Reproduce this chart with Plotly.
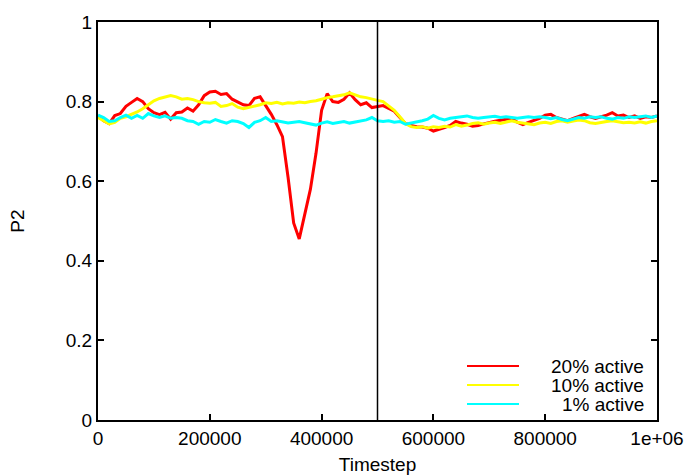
import plotly.graph_objects as go

timestep = [i * 10000 for i in range(101)]

red_20 = [0.765, 0.752, 0.745, 0.765, 0.770, 0.788, 0.798, 0.808, 0.800, 0.782,
          0.772, 0.767, 0.773, 0.756, 0.772, 0.774, 0.784, 0.776, 0.792, 0.815,
          0.824, 0.826, 0.818, 0.820, 0.806, 0.798, 0.792, 0.790, 0.808, 0.812,
          0.790, 0.768, 0.742, 0.712, 0.610, 0.495, 0.455, 0.515, 0.580, 0.670,
          0.778, 0.820, 0.800, 0.798, 0.806, 0.822, 0.805, 0.792, 0.797, 0.785,
          0.788, 0.790, 0.783, 0.776, 0.760, 0.745, 0.740, 0.737, 0.736, 0.733,
          0.726, 0.730, 0.735, 0.740, 0.750, 0.746, 0.743, 0.738, 0.740, 0.744,
          0.748, 0.751, 0.753, 0.756, 0.758, 0.748, 0.742, 0.748, 0.752, 0.758,
          0.766, 0.768, 0.760, 0.756, 0.752, 0.758, 0.762, 0.768, 0.762, 0.758,
          0.762, 0.766, 0.772, 0.764, 0.766, 0.760, 0.764, 0.758, 0.762, 0.760,
          0.764]

yellow_10 = [0.760, 0.752, 0.744, 0.748, 0.758, 0.762, 0.768, 0.774, 0.782, 0.792,
             0.802, 0.808, 0.812, 0.815, 0.812, 0.806, 0.808, 0.805, 0.800, 0.797,
             0.796, 0.798, 0.788, 0.790, 0.795, 0.786, 0.782, 0.785, 0.788, 0.792,
             0.797, 0.795, 0.798, 0.794, 0.797, 0.796, 0.799, 0.797, 0.800, 0.802,
             0.806, 0.810, 0.812, 0.814, 0.817, 0.822, 0.816, 0.812, 0.810, 0.806,
             0.803, 0.800, 0.790, 0.778, 0.762, 0.745, 0.737, 0.735, 0.737, 0.733,
             0.737, 0.735, 0.738, 0.736, 0.742, 0.738, 0.741, 0.745, 0.747, 0.743,
             0.746, 0.748, 0.745, 0.749, 0.752, 0.748, 0.746, 0.744, 0.742, 0.746,
             0.748, 0.745, 0.750, 0.752, 0.748, 0.751, 0.754, 0.752, 0.747, 0.745,
             0.748, 0.750, 0.752, 0.750, 0.747, 0.748, 0.746, 0.749, 0.746, 0.750,
             0.752]

cyan_1 = [0.766, 0.760, 0.750, 0.752, 0.760, 0.766, 0.758, 0.765, 0.758, 0.770,
          0.764, 0.760, 0.764, 0.758, 0.760, 0.758, 0.752, 0.750, 0.743, 0.750,
          0.748, 0.755, 0.750, 0.746, 0.752, 0.750, 0.745, 0.735, 0.748, 0.752,
          0.760, 0.750, 0.752, 0.749, 0.746, 0.748, 0.750, 0.747, 0.744, 0.741,
          0.746, 0.749, 0.745, 0.748, 0.750, 0.746, 0.749, 0.751, 0.754, 0.760,
          0.752, 0.750, 0.752, 0.748, 0.750, 0.743, 0.746, 0.748, 0.752, 0.756,
          0.765, 0.758, 0.754, 0.758, 0.760, 0.762, 0.764, 0.760, 0.758, 0.760,
          0.762, 0.763, 0.760, 0.762, 0.760, 0.758, 0.760, 0.762, 0.760, 0.762,
          0.760, 0.757, 0.760, 0.755, 0.752, 0.756, 0.760, 0.758, 0.762, 0.760,
          0.762, 0.758, 0.756, 0.760, 0.758, 0.762, 0.760, 0.762, 0.764, 0.760,
          0.764]

series_names = ["20% active", "10% active", "1% active"]
series_colors = ["#ff0000", "#ffff00", "#00ffff"]
series_values = [red_20, yellow_10, cyan_1]

x_tickvals = [0, 200000, 400000, 600000, 800000, 1000000]
x_ticktext = ["0", "200000", "400000", "600000", "800000", "1e+06"]
y_tickvals = [0, 0.2, 0.4, 0.6, 0.8, 1]
y_ticktext = ["0", "0.2", "0.4", "0.6", "0.8", "1"]
marker_timestep = 500000

FONT = "Liberation Sans, Arial, sans-serif"
FS = 19

fig = go.Figure()
for name, color, vals in zip(series_names, series_colors, series_values):
    fig.add_trace(go.Scatter(x=timestep, y=vals, mode="lines", name=name,
                             line=dict(color=color, width=3), showlegend=False))

# vertical marker line
fig.add_shape(type="line", x0=marker_timestep, x1=marker_timestep, y0=0, y1=1,
              xref="x", yref="y", line=dict(color="black", width=1.5))

# gnuplot-style legend (bottom right, right-aligned text)
legend_rows_y = [366, 385, 404]
top, bottom = 22.0, 420.0
for name, color, py in zip(series_names, series_colors, legend_rows_y):
    yp = (bottom - py) / (bottom - top)
    x0p = (467 - 98) / (657 - 98)
    x1p = (519 - 98) / (657 - 98)
    fig.add_shape(type="line", xref="paper", yref="paper", x0=x0p, x1=x1p, y0=yp, y1=yp,
                  line=dict(color=color, width=2))
    fig.add_annotation(xref="paper", yref="paper", x=(646 - 98) / (657 - 98), y=yp,
                       text=name, showarrow=False, xanchor="right", yanchor="middle",
                       font=dict(family=FONT, size=FS, color="black"))

axis_common = dict(showline=True, linecolor="black", linewidth=2, mirror="ticks",
                   ticks="inside", ticklen=6, tickwidth=1.5, tickcolor="black",
                   showgrid=False, zeroline=False, automargin=False,
                   tickfont=dict(family=FONT, size=FS, color="black"))

fig.update_layout(
    width=687, height=476,
    margin=dict(l=98, r=30, t=22, b=56),
    paper_bgcolor="white", plot_bgcolor="white",
    xaxis=dict(range=[0, 1000000], tickvals=x_tickvals, ticktext=x_ticktext,
               title=dict(text="Timestep", font=dict(family=FONT, size=FS, color="black"), standoff=10),
               **axis_common),
    yaxis=dict(range=[0, 1], tickvals=y_tickvals, ticktext=y_ticktext,
               title=dict(text="P2", font=dict(family=FONT, size=FS, color="black"), standoff=36),
               **axis_common),
)

fig.write_html("out.html")
